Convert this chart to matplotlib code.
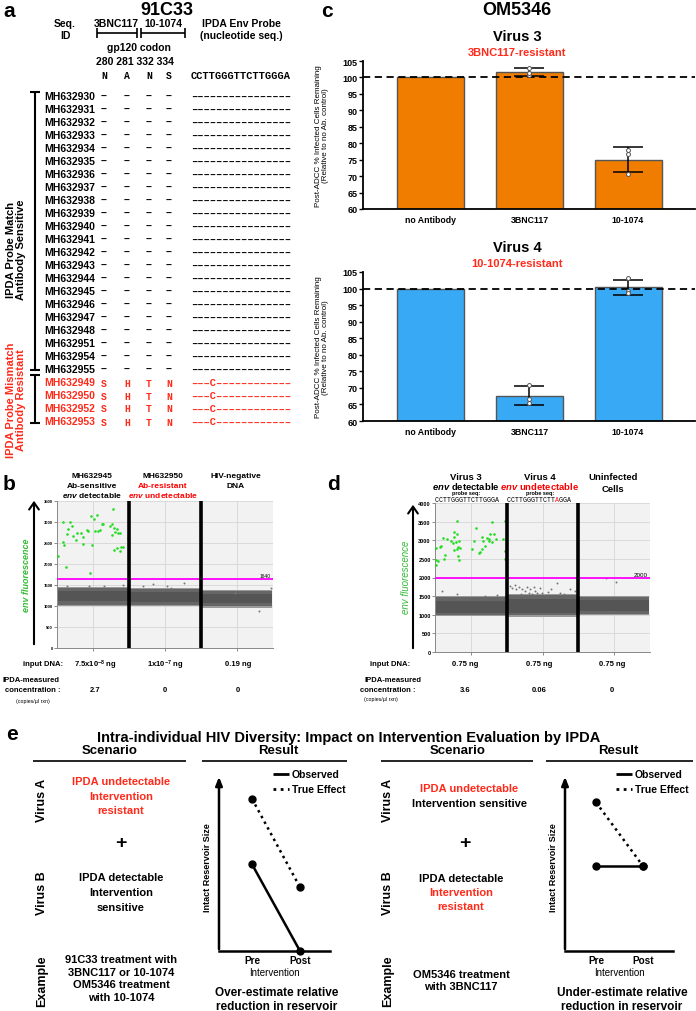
import numpy as np
import matplotlib.pyplot as plt

W, H = 696, 1012
plt.rcParams['font.family'] = ['Liberation Sans', 'DejaVu Sans']
plt.rcParams['font.weight'] = 'bold'
plt.rcParams['mathtext.fontset'] = 'custom'
plt.rcParams['mathtext.rm'] = 'Liberation Sans:bold'
plt.rcParams['mathtext.it'] = 'Liberation Sans:italic:bold'

RED = '#ff2a1a'
GREEN = '#22dd22'

# ---- panel a: sequence table
seq_sensitive = ['MH632930', 'MH632931', 'MH632932', 'MH632933', 'MH632934', 'MH632935',
                 'MH632936', 'MH632937', 'MH632938', 'MH632939', 'MH632940', 'MH632941',
                 'MH632942', 'MH632943', 'MH632944', 'MH632945', 'MH632946', 'MH632947',
                 'MH632948', 'MH632951', 'MH632954', 'MH632955']
seq_resistant = ['MH632949', 'MH632950', 'MH632952', 'MH632953']
codons = '280 281 332 334'
ref_residues = ['N', 'A', 'N', 'S']
resistant_residues = ['S', 'H', 'T', 'N']
probe_ref = 'CCTTGGGTTCTTGGGA'
probe_resistant = '–––C––––––––––––'

# ---- panel c: ADCC bars
antibodies = ['no Antibody', '3BNC117', '10-1074']
v3_mean = [100, 101.7, 75.0]
v3_sd = [0, 1.3, 3.9]
v3_points = [[100, 100, 100], [100.6, 101.5, 103.0], [70.6, 76.8, 77.8]]
v4_mean = [100, 67.6, 100.4]
v4_sd = [0, 2.9, 2.3]
v4_points = [[100, 100, 100], [70.8, 66.5, 65.5], [103.2, 99.3, 98.8]]

# ---- panel b: droplet plot (x in well units 0-3)
b_green_x = [0.02, 0.08, 0.09, 0.10, 0.12, 0.14, 0.15, 0.18, 0.21, 0.22, 0.26, 0.28, 0.33,
             0.36, 0.36, 0.41, 0.43, 0.46, 0.47, 0.49, 0.51, 0.53, 0.56, 0.57, 0.60, 0.63,
             0.64, 0.78, 0.76, 0.74, 0.79, 0.80, 0.83, 0.85, 0.87, 0.77, 0.79, 0.84, 0.87,
             0.89, 0.91, 0.98]
b_green_y = [2180, 3000, 2522, 2458, 1925, 2721, 2840, 3000, 2896, 2657, 2577, 2745, 2745,
             2641, 2482, 2800, 2784, 1782, 3134, 2442, 3063, 2776, 3158, 2776, 2800, 2943,
             2959, 3317, 2943, 2904, 2856, 2760, 2824, 2736, 2736, 2681, 2323, 2379, 2299,
             2402, 2402, 2625]
b_gray_x = [0.14, 0.44, 0.65, 0.91, 1.20, 1.33, 1.53, 1.59, 1.77, 2.47, 2.97, 2.81]
b_gray_y = [1472, 1472, 1472, 1503, 1472, 1527, 1472, 1424, 1551, 1313, 1432, 891]
b_band_lo = [1030, 1020, 990]
b_band_hi = [1420, 1400, 1360]
b_core_lo = [1110, 1100, 1070]
b_core_hi = [1350, 1330, 1290]
b_thresh = 1640
b_headers = [['MH632945', 'Ab-sensitive', r'$\mathit{env}$ detectable'],
             ['MH632950', 'Ab-resistant', r'$\mathit{env}$ undetectable'],
             ['HIV-negative', 'DNA']]
b_input = [r'7.5x10$^{-8}$ ng', r'1x10$^{-7}$ ng', '0.19 ng']
b_conc = ['2.7', '0', '0']

# ---- panel d: droplet plot
d_green_x = [0.01, 0.01, 0.02, 0.04, 0.07, 0.09, 0.11, 0.12, 0.14, 0.17, 0.22, 0.25, 0.26,
             0.27, 0.29, 0.30, 0.31, 0.31, 0.32, 0.32, 0.34, 0.34, 0.35, 0.26, 0.57, 0.55,
             0.52, 0.61, 0.63, 0.65, 0.66, 0.67, 0.70, 0.72, 0.75, 0.76, 0.79, 0.77, 0.80,
             0.82, 0.85, 0.95, 0.97, 0.97, 0.98]
d_green_y = [2332, 2789, 2475, 2449, 2825, 2852, 3049, 2493, 2601, 3031, 2986, 2924, 3076,
             3229, 2960, 2762, 3525, 3166, 2807, 2565, 2986, 2466, 2780, 2744, 3318, 2986,
             2762, 2646, 2690, 3076, 2762, 2986, 2852, 3049, 2986, 3031, 3498, 3166, 2960,
             3166, 3031, 3031, 3525, 2717, 2493]
d_gray_x = [0.10, 0.30, 0.70, 0.87, 1.01, 1.04, 1.08, 1.11, 1.13, 1.17, 1.20, 1.22, 1.26,
            1.29, 1.31, 1.33, 1.35, 1.38, 1.40, 1.42, 1.47, 1.49, 1.58, 1.62, 1.70, 1.74,
            1.80, 1.89, 1.96, 2.39, 2.52]
d_gray_y = [1641, 1552, 1507, 1525, 1731, 1776, 1731, 1794, 1686, 1758, 1552, 1686, 1641,
            1758, 1596, 1704, 1552, 1758, 1641, 1596, 1731, 1596, 1614, 1686, 1857, 1596,
            1552, 1686, 1641, 1982, 1892]
d_band_lo = [1000, 980, 1030]
d_band_hi = [1470, 1520, 1480]
d_core_lo = [1060, 1060, 1090]
d_core_hi = [1380, 1420, 1400]
d_thresh = 2000
d_input = ['0.75 ng', '0.75 ng', '0.75 ng']
d_conc = ['3.6', '0.06', '0']
probe_v4 = 'CCTTGGGTTCTTAGGA'

# ---- panel e: schematic results (Pre=1, Post=2)
left_observed = [4.9, 0.0]
left_true = [8.6, 3.6]
right_observed = [4.8, 4.8]
right_true = [8.4, 4.8]

fig = plt.figure(figsize=(W / 100, H / 100), dpi=100)


def axes_px(l, t, r, b):
    return fig.add_axes([l / W, 1 - b / H, (r - l) / W, (b - t) / H])


ov = fig.add_axes([0, 0, 1, 1], zorder=10)
ov.set_xlim(0, W)
ov.set_ylim(H, 0)
ov.axis('off')
ov.patch.set_alpha(0)


def T(x, y, s, size=7.5, ha='center', va='center', **kw):
    ov.text(x, y, s, fontsize=size, ha=ha, va=va, **kw)


def L(xs, ys, lw=1.2, color='black', **kw):
    ov.plot(xs, ys, lw=lw, color=color, solid_capstyle='butt', **kw)


# ================= panel a =================
T(9, 11, 'a', 15)
T(167, 10, '91C33', 13)
T(65, 24, 'Seq.', 7.5)
T(65, 36, 'ID', 7.5)
T(116, 24, '3BNC117', 7.5)
T(163, 24, '10-1074', 7.5)
T(241, 24, 'IPDA Env Probe', 7.5)
T(241, 36, '(nucleotide seq.)', 7.5)
L([97, 137], [34, 34])
L([141, 185], [34, 34])
for xx in [97, 137, 141, 185]:
    L([xx, xx], [29, 39])
T(139, 48, 'gp120 codon', 7.5)
T(135, 62, codons, 7.5)
codon_x = [104, 127, 149, 169]
for xc, r in zip(codon_x, ref_residues):
    T(xc, 76, r, 7, family='Liberation Mono')
T(191, 76, probe_ref, 7.5, ha='left', family='Liberation Mono')

ids = seq_sensitive + seq_resistant
for i, sid in enumerate(ids):
    y = 97 + 13 * i
    res = i >= len(seq_sensitive)
    col = RED if res else 'black'
    T(44, y, sid, 7.5, ha='left', color=col)
    for k, xc in enumerate(codon_x):
        if res:
            T(xc, y + 0.5, resistant_residues[k], 7, color=col, family='Liberation Mono')
        else:
            T(xc, y, '–', 7.5, color=col)
    T(191, y, probe_resistant if res else '–' * 16, 7.5, ha='left',
      family='Liberation Mono', color=col)

L([35, 35], [93, 371], lw=1.5)
L([30, 40], [93, 93], lw=1.5)
L([30, 40], [371, 371], lw=1.5)
L([35, 35], [376, 424], lw=1.5)
L([30, 40], [376, 376], lw=1.5)
L([30, 40], [424, 424], lw=1.5)
T(16, 250, 'IPDA Probe Match\nAntibody Sensitive', 8, rotation=90, linespacing=1.1)
T(16, 400, 'IPDA Probe Mismatch\nAntibody Resistant', 8, rotation=90, linespacing=1.1,
  color=RED)

# ================= panel c =================
T(327, 11, 'c', 15)
T(517, 10, 'OM5346', 13)


def bar_panel(top, bottom, means, sds, points, color, title, subtitle):
    ax = axes_px(363, top, 695, bottom)
    x = np.arange(len(antibodies))
    ax.bar(x, means, width=0.68, color=color, edgecolor='#555555', lw=1, zorder=2)
    ax.errorbar(x[1:], means[1:], yerr=sds[1:], fmt='none', ecolor='black', elinewidth=1.1,
                capsize=11, capthick=1.1, zorder=4)
    for xi, pts in zip(x[1:], points[1:]):
        ax.scatter([xi] * len(pts), pts, s=8, facecolor='white', edgecolor='#555555',
                   lw=0.7, zorder=5)
    ax.axhline(100, color='black', lw=1.3, ls=(0, (4, 2.5)), zorder=3)
    ax.set_xlim(-0.69, 2.68)
    ax.set_ylim(60, 105)
    ax.set_yticks(np.arange(60, 106, 5))
    ax.set_xticks(x)
    ax.set_xticklabels(antibodies, fontsize=6.3)
    ax.tick_params(axis='y', labelsize=6.5, length=3, width=1, pad=1)
    ax.tick_params(axis='x', length=0, pad=4)
    for s in ['top', 'right']:
        ax.spines[s].set_visible(False)
    for s in ['left', 'bottom']:
        ax.spines[s].set_linewidth(1.3)
    T(322, (top + bottom) / 2, 'Post-ADCC % Infected Cells Remaining\n(Relative to no Ab. control)',
      5.8, rotation=90, linespacing=1.15, fontweight='normal')
    T(517, top - 25, title, 10.5)
    T(517, top - 9, subtitle, 8, color=RED)
    return ax


bar_panel(62, 210, v3_mean, v3_sd, v3_points, '#f07d00', 'Virus 3', '3BNC117-resistant')
bar_panel(273, 422, v4_mean, v4_sd, v4_points, '#38aaf5', 'Virus 4', '10-1074-resistant')


# ================= panels b and d =================
def droplet_panel(rect, ymax, gx, gy, px, py, blo, bhi, clo, chi, thresh, tick_fs, lab_fs):
    ax = axes_px(*rect)
    ax.set_facecolor('#f2f2f2')
    ax.set_xlim(0, 3)
    ax.set_ylim(0, ymax)
    for i in range(3):
        xs = [i + 0.01, i + 0.99]
        ax.fill_between(xs, blo[i] - 30, bhi[i] + 30, color='#9a9a9a', lw=0, zorder=2)
        ax.fill_between(xs, blo[i], bhi[i], color='#666666', lw=0, zorder=2)
        ax.fill_between(xs, clo[i], chi[i], color='#555555', lw=0, zorder=2)
    ax.scatter(px, py, s=2, color='#777777', lw=0, zorder=3)
    ax.scatter(gx, gy, s=3.5, color=GREEN, lw=0, zorder=3)
    ax.axhline(thresh, color='#ff00ff', lw=1.3, zorder=4)
    ax.text(2.97, thresh + ymax * 0.005, str(thresh), fontsize=lab_fs, ha='right', va='bottom',
            fontweight='normal', zorder=5)
    for xv in [1, 2]:
        ax.axvline(xv, color='black', lw=2.6, zorder=5)
    ax.set_yticks(np.arange(0, ymax + 1, 500))
    ax.set_xticks([0.5, 1.5, 2.5])
    ax.set_xticklabels([])
    ax.grid(color='#d6d6d6', lw=0.6)
    ax.set_axisbelow(True)
    ax.tick_params(labelsize=tick_fs, length=2, width=0.6, color='#777777', pad=1)
    for s in ['top', 'right']:
        ax.spines[s].set_visible(False)
    for s in ['left', 'bottom']:
        ax.spines[s].set_color('#888888')
        ax.spines[s].set_linewidth(0.7)
    return ax


# panel b
T(9, 484, 'b', 15)
droplet_panel((57, 502, 273, 649), 3500, b_green_x, b_green_y, b_gray_x, b_gray_y,
              b_band_lo, b_band_hi, b_core_lo, b_core_hi, b_thresh, 3, 3.5)
ov.annotate('', xy=(34, 499), xytext=(34, 648),
            arrowprops=dict(arrowstyle='->,head_length=0.5,head_width=0.35', lw=1.5, color='black'))
T(27, 575, 'env fluorescence', 6.5, rotation=90, style='italic', color='#33bb33')
for cx, lines in zip([92, 163, 236], b_headers):
    for k, s in enumerate(lines):
        col = '#ff0000' if (cx == 163 and k > 0) else 'black'
        T(cx, 477 + 9 * k, s, 6.0, color=col)
T(43, 665, 'input DNA:', 5.5)
T(31, 681, 'IPDA-measured', 5.5)
T(33, 690, 'concentration :', 5.5)
T(33, 701, '(copies/µl rxn)', 3.8, fontweight='normal')
for cx, s1, s2 in zip([95, 165, 238], b_input, b_conc):
    T(cx, 665, s1, 5.5)
    T(cx, 690, s2, 5.5)

# panel d
T(333, 484, 'd', 15)
droplet_panel((435, 504, 650, 653), 4000, d_green_x, d_green_y, d_gray_x, d_gray_y,
              d_band_lo, d_band_hi, d_core_lo, d_core_hi, d_thresh, 4, 4.5)
ov.annotate('', xy=(413, 503), xytext=(413, 652),
            arrowprops=dict(arrowstyle='->,head_length=0.5,head_width=0.35', lw=1.5, color='black'))
T(406, 577, 'env fluorescence', 7, rotation=90, style='italic', fontweight='normal',
  color='#33bb33')
T(466, 477, 'Virus 3', 6.8)
T(466, 486, r'$\mathit{env}$ detectable', 6.8)
T(540, 477, 'Virus 4', 6.8)
T(540, 486, r'$\mathit{env}$ undetectable', 6.8, color='#ff0000')
T(613, 477, 'Uninfected', 6.8)
T(613, 489, 'Cells', 6.8)
for cx in [466, 540]:
    T(cx, 493, 'probe seq:', 4)
cw = 0.6 * 4.8 * 100 / 72
for k, (c1, c2) in enumerate(zip(probe_ref, probe_v4)):
    T(435 + k * cw, 500, c1, 4.8, ha='left', family='Liberation Mono', fontweight='normal')
    T(507 + k * cw, 500, c2, 4.8, ha='left', family='Liberation Mono', fontweight='normal',
      color='#ff0000' if c1 != c2 else 'black')
T(390, 665, 'input DNA:', 5.5)
T(393, 681, 'IPDA-measured', 5.5)
T(388, 691, 'concentration :', 5.5)
T(381, 700, '(copies/µl rxn)', 3.8, fontweight='normal')
for cx, s1, s2 in zip([465, 539, 612], d_input, d_conc):
    T(cx, 665, s1, 5.5)
    T(cx, 691, s2, 5.5)

# ================= panel e =================
T(12, 735, 'e', 15)
T(349, 738, 'Intra-individual HIV Diversity: Impact on Intervention Evaluation by IPDA', 10.5)


def result_axes(l, r, pre_x, post_x, observed, true):
    ax = axes_px(l, 775, r, 952)
    unit = post_x - pre_x
    ax.set_xlim(1 - (pre_x - l) / unit, 1 + (r - pre_x) / unit)
    ax.set_ylim(0, 10)
    ax.plot([1, 2], true, ls=(0, (1, 1.6)), lw=1.8, color='black', marker='o', ms=5,
            clip_on=False)
    ax.plot([1, 2], observed, lw=1.8, color='black', marker='o', ms=5, clip_on=False)
    for s in ['top', 'right', 'left']:
        ax.spines[s].set_visible(False)
    ax.spines['bottom'].set_linewidth(1.8)
    ax.set_yticks([])
    ax.set_xticks([1, 2])
    ax.set_xticklabels(['Pre', 'Post'], fontsize=7.2)
    ax.tick_params(axis='x', length=0, pad=3)
    ax.set_xlabel('Intervention', fontsize=7, labelpad=1)
    ax.annotate('', xy=(0, 1.0), xytext=(0, -0.005), xycoords='axes fraction',
                arrowprops=dict(arrowstyle='-|>,head_length=0.5,head_width=0.2', lw=1.8,
                                color='black'))
    ax.patch.set_alpha(0)
    return ax


scen = [
    dict(sx=110, line=(33, 186), rx=278, rline=(202, 347), vx=42, cx=121,
         axl=219, axr=330, pre=252, post=300, obs=left_observed, tru=left_true, lg=273,
         bottom='Over-estimate relative\nreduction in reservoir', bx=277),
    dict(sx=458, line=(381, 533), rx=618, rline=(546, 693), vx=388, cx=465,
         axl=565, axr=673, pre=596, post=643, obs=right_observed, tru=right_true, lg=616,
         bottom='Under-estimate relative\nreduction in reservoir', bx=622),
]
for sc in scen:
    T(sc['sx'], 751, 'Scenario', 9.5)
    T(sc['rx'], 751, 'Result', 9.5)
    L(list(sc['line']), [762, 762], lw=1.2)
    L(list(sc['rline']), [762, 762], lw=1.2)
    T(sc['vx'], 800, 'Virus A', 9, rotation=90)
    T(sc['vx'], 893, 'Virus B', 9, rotation=90)
    T(sc['vx'], 981, 'Example', 9, rotation=90)
    result_axes(sc['axl'], sc['axr'], sc['pre'], sc['post'], sc['obs'], sc['tru'])
    T(sc['axl'] - 11, 868, 'Intact Reservoir Size', 6.5, rotation=90)
    L([sc['lg'], sc['lg'] + 16], [775, 775], lw=2)
    L([sc['lg'], sc['lg'] + 16], [790, 790], lw=2, ls=(0, (1, 1.6)))
    T(sc['lg'] + 19, 775, 'Observed', 7.5, ha='left')
    T(sc['lg'] + 19, 790, 'True Effect', 7.5, ha='left')
    T(sc['bx'], 1000, sc['bottom'], 8.5, linespacing=1.15)
    T(sc['cx'], 844, '+', 14)

# left scenario text
T(121, 782, 'IPDA undetectable', 8, color=RED)
T(121, 797, 'Intervention', 8, color=RED)
T(121, 811, 'resistant', 8, color=RED)
T(121, 878, 'IPDA detectable', 8)
T(121, 893, 'Intervention', 8)
T(121, 908, 'sensitive', 8)
T(121, 979, '91C33 treatment with\n3BNC117 or 10-1074\nOM5346 treatment\nwith 10-1074', 8,
  linespacing=1.3)
# right scenario text
T(469, 789, 'IPDA undetectable', 8, color=RED)
T(469, 804, 'Intervention sensitive', 8)
T(461, 879, 'IPDA detectable', 8)
T(461, 893, 'Intervention', 8, color=RED)
T(461, 907, 'resistant', 8, color=RED)
T(461, 981, 'OM5346 treatment\nwith 3BNC117', 8, linespacing=1.3)

fig.savefig('out.png', dpi=100)
